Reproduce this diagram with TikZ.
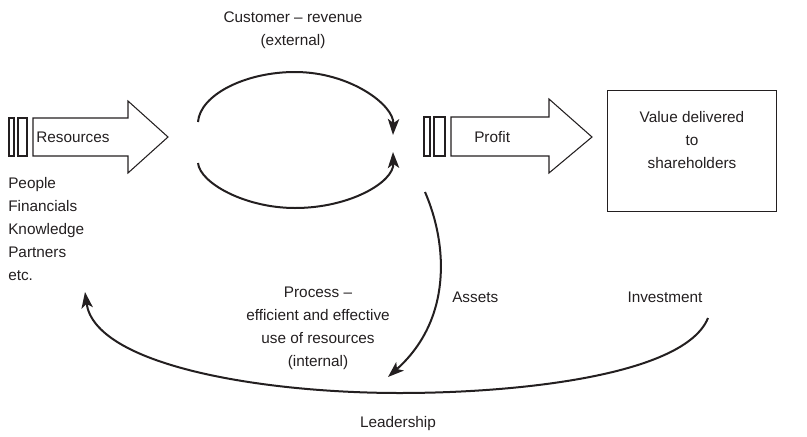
\documentclass[tikz,border=0pt]{standalone}
\usepackage{fontspec}
\setmainfont{Liberation Sans}
\usetikzlibrary{arrows.meta}
\definecolor{ink}{RGB}{35,31,32}
\begin{document}
\begin{tikzpicture}[x=0.75pt,y=-0.75pt,
  lbl/.style={font=\fontsize{11.5}{17.25}\selectfont, inner sep=0pt, text=ink},
  outline/.style={draw=ink, line width=0.8pt},
  flow/.style={draw=ink, line width=1.5pt, -{Stealth[length=12pt,width=8.5pt,inset=3pt]}},
  valbox/.style={draw=ink, line width=0.8pt, minimum width=126.75pt, minimum height=90.75pt, inner sep=0pt}
]
\useasboundingbox (0,0) rectangle (807,436);

% Resources arrow
\draw[outline] (9,118) rectangle (14,156);
\draw[outline] (18,118) rectangle (27,156);
\draw[outline] (33,118) -- (128,118) -- (128,101) -- (168,137) -- (128,173) -- (128,156) -- (33,156) -- cycle;
\node[lbl, anchor=base west] (restxt) at (36,142.5) {Resources};

% Profit arrow
\draw[outline] (424,117) rectangle (430,156);
\draw[outline] (434,117) rectangle (445,156);
\draw[outline] (451,117) -- (549,117) -- (549,99) -- (592,137) -- (549,173) -- (549,156) -- (451,156) -- cycle;
\node[lbl, anchor=base west] (proftxt) at (474,142.5) {Profit};

% Value box
\node[valbox] (box) at (692,151) {};
\node[lbl, anchor=base, align=center] (val) at (692,168) {Value delivered\\to\\shareholders};

% Labels
\node[lbl, anchor=base, align=center] (cust) at (293,45) {Customer – revenue\\(external)};
\node[lbl, anchor=base west, align=left] (list) at (8,280) {People\\Financials\\Knowledge\\Partners\\etc.};
\node[lbl, anchor=base, align=center] (proc) at (318,366) {Process –\\efficient and effective\\use of resources\\(internal)};
\node[lbl, anchor=base west] (assets) at (452,302) {Assets};
\node[lbl, anchor=base] (inv) at (665,302) {Investment};
\node[lbl, anchor=base] (lead) at (398,427) {Leadership};

% Connector end points
\coordinate (ta) at (198,122);
\coordinate (tp) at (295,72);
\coordinate (tb) at (393,135);
\coordinate (ba) at (198,163);
\coordinate (bp) at (295,208);
\coordinate (bb) at (393,152);
\coordinate (a1) at (425,192);
\coordinate (a2) at (388,377);
\coordinate (l1) at (708,318);
\coordinate (lb) at (400,393);
\coordinate (l2) at (85,292);

% Customer loop
\draw[flow] (ta) .. controls (200,95) and (245,72) .. (tp) .. controls (350,72) and (394,105) .. (tb);
\draw[flow] (ba) .. controls (200,183) and (245,208) .. (bp) .. controls (350,208) and (394,182) .. (bb);

% Assets
\draw[flow] (a1) .. controls (448,245) and (452,320) .. (a2);

% Leadership
\draw[flow] (l1) .. controls (685,375) and (520,393) .. (lb) .. controls (260,393) and (95,365) .. (l2);
\end{tikzpicture}
\end{document}
